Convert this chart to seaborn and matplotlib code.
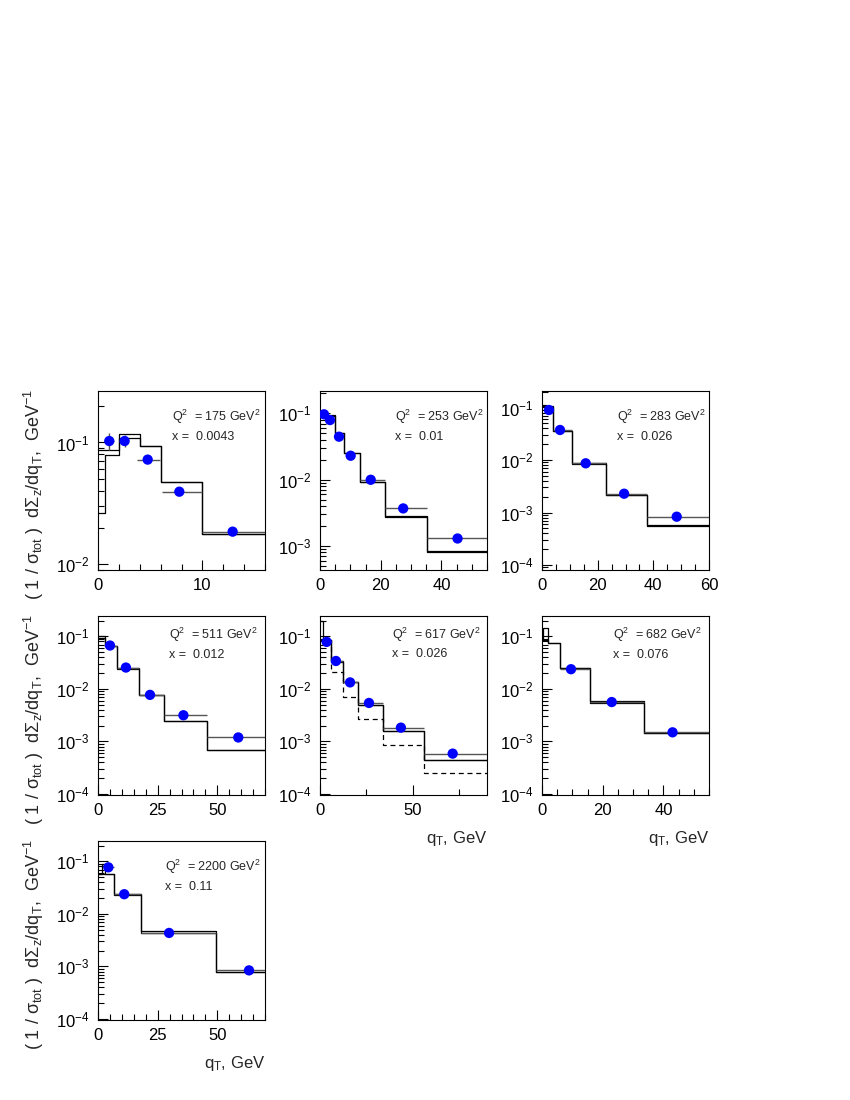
import matplotlib
matplotlib.use('Agg')
import matplotlib.pyplot as plt
import matplotlib.ticker as mticker
import seaborn as sns
import numpy as np

sns.set_style('ticks')
plt.rcParams['font.family'] = ['Liberation Sans', 'DejaVu Sans']
plt.rcParams['mathtext.fontset'] = 'custom'
plt.rcParams['mathtext.rm'] = 'Liberation Sans'
plt.rcParams['mathtext.it'] = 'Liberation Sans:italic'
plt.rcParams['mathtext.bf'] = 'Liberation Sans:bold'

# panel labels
q2_vals = ['175', '253', '283', '511', '617', '682', '2200']
x_vals = ['0.0043', '0.01', '0.026', '0.012', '0.026', '0.076', '0.11']

# panel 1
p1_edges = [0, 0.7, 2, 4, 6, 10, 16]
p1_ha = [0.0265, 0.0789, 0.1083, 0.0942, 0.0477, 0.0176]
p1_hb = [0.0868, 0.0868, 0.1168, 0.0942, 0.0477, 0.0176]
p1_x = [1.08, 2.55, 4.76, 7.79, 12.9]
p1_y = [0.1028, 0.1028, 0.0723, 0.0394, 0.0185]
p1_xlo = [0.7, 2.55, 3.7, 6.1, 10]
p1_xhi = [1.5, 2.55, 5.9, 10, 16]
p1_ylo = [0.0868, 0.0924, 0.0723, 0.0394, 0.0185]
p1_yhi = [0.1197, 0.115, 0.0723, 0.0394, 0.0185]

# panel 2
p2_edges = [0, 4.9, 8, 13.2, 21.4, 35.3, 55]
p2_ha = [0.092, 0.0499, 0.0249, 0.00907, 0.00274, 0.000811]
p2_hb = [0.095, 0.0505, 0.0255, 0.0093, 0.0028, 0.00083]
p2_x = [1.32, 3.29, 6.26, 10.1, 16.7, 27.4, 45.3]
p2_y = [0.0966, 0.0792, 0.0444, 0.0229, 0.00993, 0.00367, 0.00129]
p2_xlo = [1.32, 3.29, 6.26, 10.1, 13.2, 21.4, 35.3]
p2_xhi = [1.32, 3.29, 6.26, 10.1, 21.4, 35.3, 55]

# panel 3
p3_edges = [0, 1.4, 3.8, 10.7, 23, 37.6, 60]
p3_ha = [0.11, 0.1, 0.0357, 0.0085, 0.00216, 0.000561]
p3_hb = [0.105, 0.105, 0.036, 0.0087, 0.0022, 0.00057]
p3_x = [2.5, 6.47, 15.7, 29.5, 48.4]
p3_y = [0.0896, 0.0373, 0.00865, 0.00228, 0.000832]
p3_xlo = [2.5, 3.8, 10.7, 23, 37.6]
p3_xhi = [2.5, 10.7, 23, 37.6, 60]

# panel 4
p4_edges = [0, 2.9, 7.8, 17.2, 27.8, 45.8, 70]
p4_ha = [0.103, 0.067, 0.0244, 0.00749, 0.00248, 0.000678]
p4_hb = [0.095, 0.066, 0.0255, 0.0077, 0.00248, 0.000678]
p4_x = [5.03, 11.7, 21.8, 35.8, 58.8]
p4_y = [0.067, 0.0255, 0.0077, 0.00315, 0.00119]
p4_xlo = [2.9, 7.8, 17.2, 27.8, 45.8]
p4_xhi = [7.8, 17.2, 27.8, 45.8, 70]

# panel 5 (two solid and one dashed histogram)
p5_edges = [0, 1.8, 5.9, 12.6, 20.6, 33.8, 56, 90]
p5_ha = [0.2, 0.0841, 0.034, 0.0137, 0.00501, 0.00158, 0.000452]
p5_hb = [0.084, 0.0841, 0.033, 0.0135, 0.0050, 0.00158, 0.000452]
p5_hd = [0.084, 0.0841, 0.0211, 0.00699, 0.00262, 0.000863, 0.000247]
p5_x = [3.6, 8.6, 16.2, 26.4, 43.6, 71.5]
p5_y = [0.0785, 0.034, 0.0133, 0.0054, 0.00183, 0.000586]
p5_xlo = [1.8, 5.9, 12.6, 20.6, 33.8, 56]
p5_xhi = [5.9, 12.6, 20.6, 33.8, 56, 90]

# panel 6
p6_edges = [0, 0.4, 2.1, 5.9, 15.8, 33.6, 55]
p6_ha = [0.084, 0.144, 0.0752, 0.0255, 0.00578, 0.00143]
p6_hb = [0.084, 0.084, 0.0752, 0.0245, 0.0054, 0.00143]
p6_x = [9.55, 22.96, 43.0]
p6_y = [0.0237, 0.00562, 0.00149]
p6_xlo = [5.9, 15.8, 33.6]
p6_xhi = [15.8, 33.6, 55]

# panel 7
p7_edges = [0, 1.5, 2.9, 6.7, 18, 49.3, 70]
p7_ha = [0.058, 0.0894, 0.058, 0.0227, 0.00466, 0.000781]
p7_hb = [0.058, 0.058, 0.058, 0.0237, 0.00441, 0.000781]
p7_x = [4.33, 11.0, 29.8, 63.3]
p7_y = [0.0771, 0.0237, 0.00434, 0.000841]
p7_xlo = [2.9, 6.7, 18, 49.3]
p7_xhi = [6.7, 18, 49.3, 70]

row23_ylim = (10**-4.02, 10**-0.612)
panels = [
    dict(edges=p1_edges, hists=[p1_ha, p1_hb], x=p1_x, y=p1_y, xlo=p1_xlo, xhi=p1_xhi,
         ylo=p1_ylo, yhi=p1_yhi, xlim=(0, 16), ylim=(10**-2.048, 10**-0.577), xmaj=10, xmin=2),
    dict(edges=p2_edges, hists=[p2_ha, p2_hb], x=p2_x, y=p2_y, xlo=p2_xlo, xhi=p2_xhi,
         xlim=(0, 55), ylim=(10**-3.365, 10**-0.663), xmaj=20, xmin=5),
    dict(edges=p3_edges, hists=[p3_ha, p3_hb], x=p3_x, y=p3_y, xlo=p3_xlo, xhi=p3_xhi,
         xlim=(0, 60), ylim=(10**-4.095, 10**-0.686), xmaj=20, xmin=5),
    dict(edges=p4_edges, hists=[p4_ha, p4_hb], x=p4_x, y=p4_y, xlo=p4_xlo, xhi=p4_xhi,
         xlim=(0, 70), ylim=row23_ylim, xmaj=25, xmin=5),
    dict(edges=p5_edges, hists=[p5_ha, p5_hb], dashed=p5_hd, x=p5_x, y=p5_y, xlo=p5_xlo, xhi=p5_xhi,
         xlim=(0, 90), ylim=row23_ylim, xmaj=50, xmin=25),
    dict(edges=p6_edges, hists=[p6_ha, p6_hb], x=p6_x, y=p6_y, xlo=p6_xlo, xhi=p6_xhi,
         xlim=(0, 55), ylim=row23_ylim, xmaj=20, xmin=5),
    dict(edges=p7_edges, hists=[p7_ha, p7_hb], x=p7_x, y=p7_y, xlo=p7_xlo, xhi=p7_xhi,
         xlim=(0, 70), ylim=row23_ylim, xmaj=25, xmin=5),
]

W, H = 850, 1100
col_left = [98, 320, 542]
row_bottom = [570, 795, 1020]
pw, ph = 167, 179
grid = [(0, 0), (0, 1), (0, 2), (1, 0), (1, 1), (1, 2), (2, 0)]
text_pos = [(0.445, 0.853, 0.745), (0.449, 0.853, 0.745), (0.447, 0.853, 0.745),
            (0.425, 0.894, 0.782), (0.429, 0.894, 0.785), (0.427, 0.894, 0.782),
            (0.401, 0.853, 0.745)]

fig = plt.figure(figsize=(8.5, 11), dpi=100)

ylab = r'( 1 / σ$_{\rm tot}$ )  dΣ$_{\rm z}$/dq$_{\rm T}$,  GeV$^{-1}$'

for i, p in enumerate(panels):
    r, c = grid[i]
    ax = fig.add_axes([col_left[c] / W, 1 - row_bottom[r] / H, pw / W, ph / H])
    edges = np.array(p['edges'], dtype=float)
    for h in p['hists']:
        sns.lineplot(x=edges, y=np.append(h, h[-1]), drawstyle='steps-post',
                     estimator=None, sort=False, color='black', lw=0.9, ax=ax)
    if 'dashed' in p:
        hd = p['dashed']
        sns.lineplot(x=edges, y=np.append(hd, hd[-1]), drawstyle='steps-post',
                     estimator=None, sort=False, color='black', lw=0.9,
                     dashes=False, linestyle=(0, (4, 3)), ax=ax)
    px = np.array(p['x'])
    py = np.array(p['y'])
    xerr = [px - np.array(p['xlo']), np.array(p['xhi']) - px]
    yerr = None
    if 'ylo' in p:
        yerr = [py - np.array(p['ylo']), np.array(p['yhi']) - py]
    ax.errorbar(px, py, xerr=xerr, yerr=yerr, fmt='none', ecolor='#555555',
                elinewidth=1.0, capsize=0, zorder=4)
    sns.scatterplot(x=px, y=py, color='#0000ff', s=55, edgecolor='none', zorder=5, ax=ax)

    ax.set_yscale('log')
    ax.set_xlim(*p['xlim'])
    ax.set_ylim(*p['ylim'])
    ax.xaxis.set_major_locator(mticker.MultipleLocator(p['xmaj']))
    ax.xaxis.set_minor_locator(mticker.MultipleLocator(p['xmin']))
    ax.yaxis.set_major_locator(mticker.LogLocator(base=10, numticks=12))
    ax.yaxis.set_minor_locator(mticker.LogLocator(base=10, subs=np.arange(2, 10), numticks=40))
    ax.yaxis.set_major_formatter(mticker.LogFormatterSciNotation())
    ax.yaxis.set_minor_formatter(mticker.NullFormatter())
    ax.tick_params(which='both', direction='in', top=False, right=False,
                   labelsize=12, width=0.8, colors='black')
    ax.tick_params(which='major', length=7, pad=6)
    ax.tick_params(which='minor', length=4.5)
    for s in ax.spines.values():
        s.set_visible(True)
        s.set_linewidth(0.8)
        s.set_color('black')

    tx, ty1, ty2 = text_pos[i]
    ax.text(tx, ty1, 'Q$^2$  = ' + q2_vals[i] + ' GeV$^2$', transform=ax.transAxes,
            fontsize=9, va='center', ha='left')
    ax.text(tx, ty2, 'x =  ' + x_vals[i], transform=ax.transAxes,
            fontsize=9, va='center', ha='left')

    ax.set_xlabel('')
    ax.set_ylabel('')
    if c == 0:
        ax.set_ylabel(ylab, fontsize=13)
        ax.yaxis.set_label_coords(-0.31, 0.42)
    if i in (4, 5, 6):
        ax.set_xlabel('q$_{\\rm T}$, GeV', fontsize=12, loc='right', labelpad=8)

fig.savefig('out.png', dpi=100)
